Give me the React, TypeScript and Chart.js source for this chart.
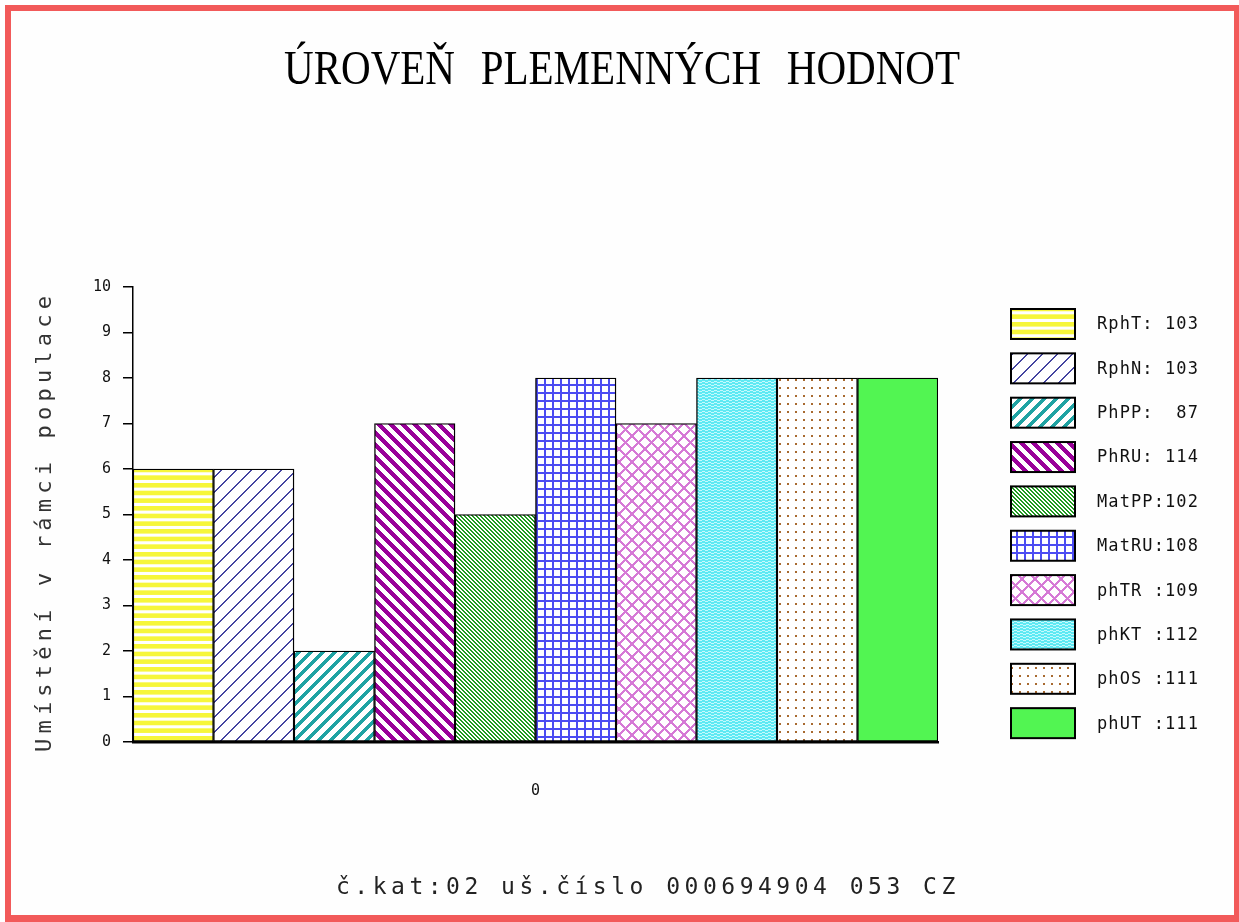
import React, { useEffect, useRef } from "react";
import { Chart, registerables } from "chart.js";

Chart.register(...registerables);

// ---------------- data ----------------
const categories = ["0"];
const seriesNames = ["RphT", "RphN", "PhPP", "PhRU", "MatPP", "MatRU", "phTR", "phKT", "phOS", "phUT"];
const breedingValues = [103, 103, 87, 114, 102, 108, 109, 112, 111, 111];
const placements = [6, 6, 2, 7, 5, 8, 7, 8, 8, 8];
const colonAfterPad = [false, false, false, false, false, false, true, true, true, true];
const yMin = 0;
const yMax = 10;
const yStep = 1;
const titleText = "ÚROVEŇ PLEMENNÝCH HODNOT";
const yAxisTitle = "Umístění v rámci populace";
const footerText = "č.kat:02 uš.číslo 000694904 053 CZ";

// ---------------- styles ----------------
type PatternStyle = { kind: string; color: string; period?: number; w?: number };
const patternStyles: PatternStyle[] = [
  { kind: "hstripe", color: "#f6f63a" },
  { kind: "diagUp", color: "#4444a0", period: 15, w: 2 },
  { kind: "diagUp", color: "#1fa3a3", period: 12, w: 5 },
  { kind: "diagDown", color: "#990099", period: 12, w: 6 },
  { kind: "diagDown", color: "#1f9a1f", period: 4, w: 2 },
  { kind: "grid", color: "#4c4cf2" },
  { kind: "cross", color: "#d67ad6", period: 13, w: 3 },
  { kind: "fine", color: "#5ee9f3" },
  { kind: "dots", color: "#a86a30" },
  { kind: "solid", color: "#52f552" },
];

function hexToRgb(h: string): [number, number, number] {
  const n = parseInt(h.slice(1), 16);
  return [(n >> 16) & 255, (n >> 8) & 255, n & 255];
}

function makePattern(s: PatternStyle): CanvasPattern | string {
  if (s.kind === "solid") return s.color;
  const c = document.createElement("canvas");
  const g = c.getContext("2d")!;
  const setup = (w: number, h: number) => {
    c.width = w;
    c.height = h;
    g.fillStyle = "#ffffff";
    g.fillRect(0, 0, w, h);
  };
  const p = s.period || 10;
  const sw = s.w || 1;
  const pixelTile = (test: (x: number, y: number) => boolean) => {
    setup(p, p);
    const img = g.getImageData(0, 0, p, p);
    const [r, gg, b] = hexToRgb(s.color);
    for (let y = 0; y < p; y++) {
      for (let x = 0; x < p; x++) {
        if (test(x, y)) {
          const k = (y * p + x) * 4;
          img.data[k] = r;
          img.data[k + 1] = gg;
          img.data[k + 2] = b;
          img.data[k + 3] = 255;
        }
      }
    }
    g.putImageData(img, 0, 0);
  };
  switch (s.kind) {
    case "hstripe": {
      setup(8, 23);
      g.fillStyle = s.color;
      for (let i = 0; i < 3; i++) g.fillRect(0, (i * 23) / 3, 8, 4.6);
      break;
    }
    case "diagUp":
      pixelTile((x, y) => (x + y) % p < sw);
      break;
    case "diagDown":
      pixelTile((x, y) => (x - y + p * 4) % p < sw);
      break;
    case "cross":
      pixelTile((x, y) => (x + y) % p < sw || (x - y + p * 4) % p < sw);
      break;
    case "grid": {
      setup(8, 8);
      g.fillStyle = s.color;
      g.fillRect(0, 0, 8, 2);
      g.fillRect(0, 0, 2, 8);
      break;
    }
    case "fine": {
      setup(6, 3);
      g.fillStyle = s.color;
      g.fillRect(0, 0, 6, 3);
      g.fillStyle = "#c4fafd";
      g.fillRect(0, 0, 3, 1);
      g.fillRect(3, 1, 3, 1);
      break;
    }
    case "dots": {
      setup(8, 8);
      g.fillStyle = s.color;
      g.fillRect(3, 3, 2, 2);
      break;
    }
  }
  return g.createPattern(c, "repeat")!;
}

function legendLabel(i: number): string {
  const v = String(breedingValues[i]);
  if (colonAfterPad[i]) return seriesNames[i].padEnd(5) + ":" + v;
  return (seriesNames[i] + ":").padEnd(9 - v.length) + v;
}

const decorPlugin = {
  id: "decor",
  beforeDraw(chart: any) {
    const g: CanvasRenderingContext2D = chart.ctx;
    g.save();
    g.fillStyle = "#f25a5a";
    g.fillRect(5, 5, 1234, 917);
    g.fillStyle = "#fefefe";
    g.fillRect(11, 11, 1223, 904);
    g.restore();
  },
  afterDraw(chart: any) {
    const g: any = chart.ctx;
    // title
    g.save();
    g.fillStyle = "#000";
    g.font = '48px "Liberation Serif"';
    g.wordSpacing = "18px";
    g.textBaseline = "alphabetic";
    g.textAlign = "left";
    const tw = g.measureText(titleText).width;
    g.translate(284, 84);
    g.scale(676 / tw, 1);
    g.fillText(titleText, 0, 0);
    g.restore();

    // footer
    g.save();
    g.fillStyle = "#222";
    g.font = '23px "DejaVu Sans Mono"';
    g.letterSpacing = "4.5px";
    g.textBaseline = "alphabetic";
    g.textAlign = "left";
    g.fillText(footerText, 336, 894);
    g.restore();

    // y-axis title
    g.save();
    g.fillStyle = "#333";
    g.font = '22px "DejaVu Sans Mono"';
    g.letterSpacing = "5.2px";
    g.textBaseline = "alphabetic";
    g.textAlign = "left";
    g.translate(51, 752);
    g.rotate(-Math.PI / 2);
    g.fillText(yAxisTitle, 0, 0);
    g.restore();

    // legend
    const ds = chart.data.datasets;
    g.save();
    g.font = '17px "DejaVu Sans Mono"';
    g.letterSpacing = "1.1px";
    g.textBaseline = "middle";
    g.textAlign = "left";
    for (let i = 0; i < ds.length; i++) {
      const cy = 324 + i * 44.35;
      g.fillStyle = ds[i].backgroundColor;
      g.fillRect(1011, cy - 15, 64, 30);
      g.strokeStyle = "#000";
      g.lineWidth = 2;
      g.strokeRect(1011, cy - 15, 64, 30);
      g.fillStyle = "#111";
      g.fillText(ds[i].label, 1097, cy + 1);
    }
    g.restore();
  },
};

export default function App() {
  const ref = useRef<HTMLCanvasElement>(null);
  useEffect(() => {
    if (!ref.current) return;
    const datasets = seriesNames.map((name, i) => ({
      label: legendLabel(i),
      data: [placements[i]],
      backgroundColor: makePattern(patternStyles[i]) as any,
      borderColor: "#000",
      borderWidth: 1.4,
      borderSkipped: false as any,
      categoryPercentage: 1,
      barPercentage: 1,
    }));
    const chart = new Chart(ref.current, {
      type: "bar",
      data: { labels: categories, datasets },
      options: {
        animation: false,
        responsive: false,
        maintainAspectRatio: false,
        layout: { padding: { left: 0, top: 287, right: 301, bottom: 0 } },
        plugins: {
          legend: { display: false },
          title: { display: false },
          tooltip: { enabled: false },
        },
        scales: {
          x: {
            grid: { display: false, drawTicks: false },
            border: { display: true, color: "#000", width: 2.5 },
            ticks: {
              padding: 40,
              color: "#111",
              font: { family: '"DejaVu Sans Mono"', size: 15 },
            },
            afterFit: (scale: any) => {
              scale.height = 180;
            },
          },
          y: {
            min: yMin,
            max: yMax,
            grid: {
              display: true,
              drawOnChartArea: false,
              drawTicks: true,
              tickLength: 10,
              color: "#000",
              lineWidth: 1.5,
            },
            border: { display: true, color: "#000", width: 1.5 },
            ticks: {
              stepSize: yStep,
              padding: 12,
              color: "#111",
              font: { family: '"DejaVu Sans Mono"', size: 15 },
            },
            afterFit: (scale: any) => {
              scale.width = 133;
            },
          },
        },
      },
      plugins: [decorPlugin],
    });
    return () => chart.destroy();
  }, []);
  return (
    <div style={{ position: "absolute", left: 0, top: 0, width: 1239, height: 922 }}>
      <canvas ref={ref} width={1239} height={922} style={{ display: "block" }} />
    </div>
  );
}
